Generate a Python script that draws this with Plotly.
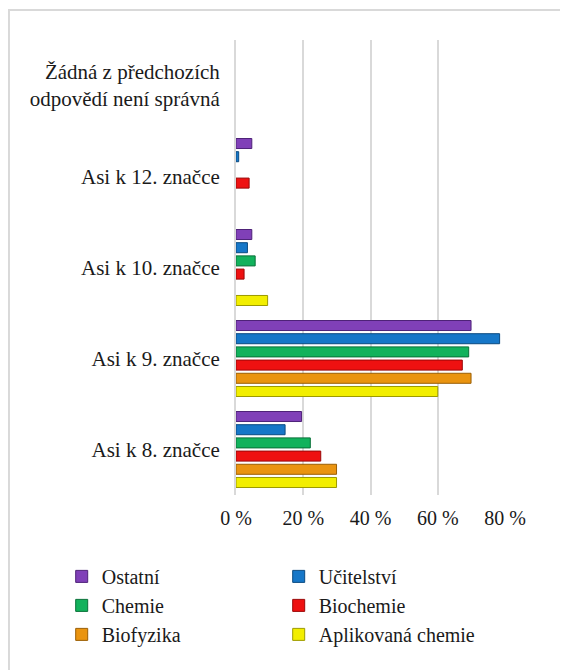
import plotly.graph_objects as go

categories = [
    "Asi k 8. značce",
    "Asi k 9. značce",
    "Asi k 10. značce",
    "Asi k 12. značce",
    "Žádná z předchozích<br>odpovědí není správná",
]

# percent of answers per study programme (bottom category first)
ostatni = [19.5, 69.9, 4.7, 4.7, 0.0]
ucitelstvi = [14.6, 78.4, 3.4, 0.8, 0.0]
chemie = [22.1, 69.2, 5.7, 0.0, 0.0]
biochemie = [25.2, 67.3, 2.4, 3.9, 0.0]
biofyzika = [29.9, 69.9, 0.0, 0.0, 0.0]
aplikovana = [29.9, 60.0, 9.4, 0.0, 0.0]

x_ticks = [0, 20, 40, 60, 80]
x_labels = ["0 %", "20 %", "40 %", "60 %", "80 %"]

FONT = "Liberation Serif, Times New Roman, serif"

# plotly draws the first trace at the bottom of each group
series = [
    ("Aplikovaná chemie", aplikovana, "#f2ee00", "#9c9a00"),
    ("Biofyzika", biofyzika, "#ea9410", "#9a5e05"),
    ("Biochemie", biochemie, "#ee1111", "#9a0808"),
    ("Chemie", chemie, "#12b25c", "#087038"),
    ("Učitelství", ucitelstvi, "#1677c8", "#0b4a80"),
    ("Ostatní", ostatni, "#8040b8", "#4e2278"),
]

fig = go.Figure()
for name, vals, color, edge in series:
    fig.add_trace(go.Bar(
        y=categories,
        x=vals,
        name=name,
        orientation="h",
        # no outline on empty bars, so zeros stay invisible
        marker=dict(color=color, line=dict(color=edge, width=[1 if v > 0 else 0 for v in vals])),
        hovertemplate=f"<b>{name}</b><br>%{{y}}: %{{x:.1f}} %<extra></extra>",
    ))

# light grey frame around the chart area
fig.add_shape(
    type="rect", xref="paper", yref="paper",
    x0=-0.844, y0=-0.6, x1=1.5, y1=1.066,
    line=dict(color="#d9d9d9", width=2), fillcolor="rgba(0,0,0,0)",
    layer="below",
)

# the page body adds an 8px margin, so the figure is a bit smaller than the window
fig.update_layout(
    width=560,
    height=662,
    margin=dict(l=228, r=63, t=32, b=175, autoexpand=False),
    paper_bgcolor="white",
    plot_bgcolor="white",
    barmode="group",
    bargap=0.13,
    bargroupgap=0.24,
    font=dict(family=FONT, size=20, color="#1a1a1a"),
    showlegend=True,
    legend=dict(
        orientation="h",
        traceorder="reversed",
        x=-0.648, xanchor="left",
        y=-0.136, yanchor="top",
        entrywidth=172,
        entrywidthmode="pixels",
        itemwidth=30,
        font=dict(family=FONT, size=20, color="#1a1a1a"),
        bgcolor="rgba(0,0,0,0)",
    ),
    xaxis=dict(
        range=[0, 80],
        tickmode="array",
        tickvals=x_ticks,
        ticktext=x_labels,
        showgrid=True,
        gridcolor="#d9d9d9",
        gridwidth=2,
        zeroline=False,
        showline=False,
        ticks="",
        ticklabelstandoff=9,
        fixedrange=True,
    ),
    yaxis=dict(
        type="category",
        showgrid=False,
        zeroline=False,
        showline=True,
        linecolor="#d9d9d9",
        linewidth=2,
        ticks="",
        tickfont=dict(family=FONT, size=21, color="#1a1a1a"),
        ticklabelstandoff=10,
        fixedrange=True,
    ),
)

fig.write_html("out.html")
